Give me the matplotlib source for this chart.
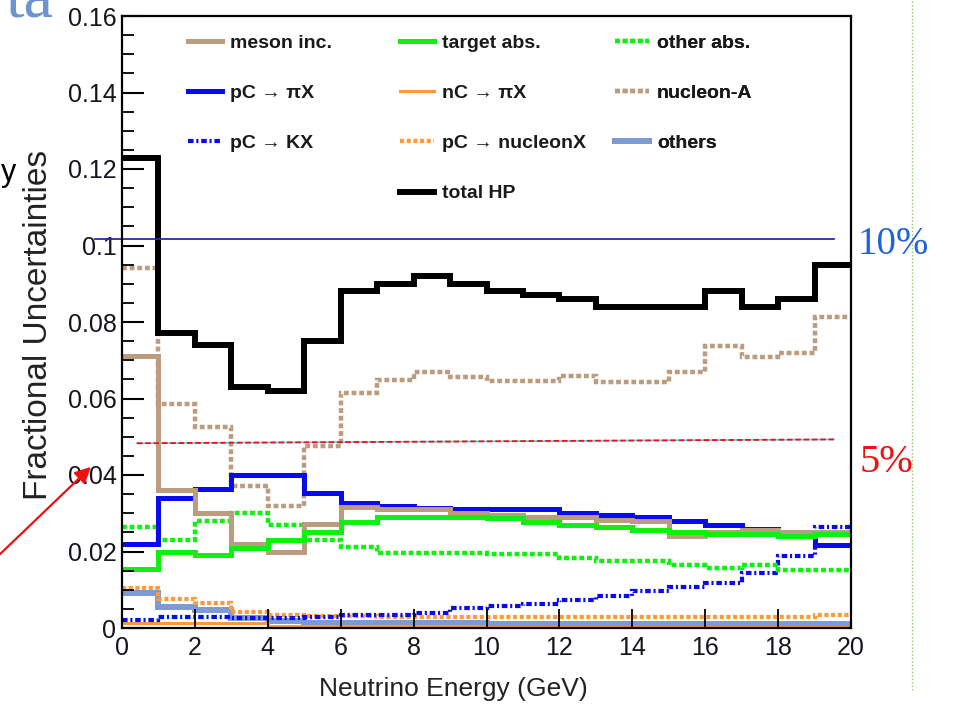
import numpy as np
import matplotlib
matplotlib.use("Agg")
import matplotlib.pyplot as plt
from matplotlib.lines import Line2D
from matplotlib.ticker import MultipleLocator, FuncFormatter

plt.rcParams['font.family'] = ['Liberation Sans', 'DejaVu Sans']
plt.rcParams['lines.scale_dashes'] = False

# 1 GeV bins from 0 to 20 GeV
energy_edges = list(range(0, 21))

meson_inc = [0.071, 0.036, 0.030, 0.022, 0.020, 0.0273, 0.0317, 0.031, 0.031, 0.030,
             0.0296, 0.029, 0.029, 0.0283, 0.028, 0.024, 0.025, 0.0257, 0.025, 0.025]
target_abs = [0.0155, 0.020, 0.019, 0.021, 0.023, 0.025, 0.0278, 0.029, 0.029, 0.029,
              0.0288, 0.0276, 0.027, 0.0264, 0.0257, 0.025, 0.0247, 0.0247, 0.024, 0.0247]
other_abs = [0.0264, 0.023, 0.028, 0.030, 0.027, 0.023, 0.0213, 0.0197, 0.0197, 0.0197,
             0.0194, 0.0194, 0.0183, 0.0176, 0.0176, 0.0165, 0.0157, 0.0165, 0.0152, 0.0152]
pc_pix = [0.022, 0.034, 0.0364, 0.040, 0.040, 0.0354, 0.0327, 0.032, 0.0315, 0.031,
          0.031, 0.031, 0.030, 0.0296, 0.029, 0.028, 0.027, 0.026, 0.025, 0.0218]
nc_pix = [0.0012, 0.0012, 0.0012, 0.0012, 0.0006, 0.0006, 0.0006, 0.0006, 0.0006, 0.0006,
          0.0003, 0.0003, 0.0003, 0.0003, 0.0003, 0.0003, 0.0003, 0.0003, 0.0003, 0.0003]
nucleon_a = [0.094, 0.0585, 0.0525, 0.037, 0.032, 0.0477, 0.0614, 0.0648, 0.067, 0.0655,
             0.0645, 0.0645, 0.066, 0.0643, 0.0643, 0.067, 0.0737, 0.0708, 0.072, 0.0813]
pc_kx = [0.002, 0.003, 0.003, 0.0025, 0.0025, 0.003, 0.0033, 0.0035, 0.004, 0.0052,
         0.0058, 0.0062, 0.0073, 0.0084, 0.0097, 0.0108, 0.0118, 0.0144, 0.0189, 0.0265]
pc_nucleonx = [0.0105, 0.0077, 0.0066, 0.0042, 0.0034, 0.0032, 0.0032, 0.003, 0.003, 0.003,
               0.0029, 0.0029, 0.0029, 0.0029, 0.0028, 0.0028, 0.0028, 0.0029, 0.003, 0.0034]
others = [0.0091, 0.0056, 0.0047, 0.0026, 0.0018, 0.0012, 0.0012, 0.0012, 0.0012, 0.0012,
          0.0010, 0.0010, 0.0010, 0.0010, 0.0010, 0.0010, 0.0010, 0.0010, 0.0010, 0.0010]
total_hp = [0.123, 0.077, 0.074, 0.063, 0.062, 0.075, 0.088, 0.090, 0.092, 0.090,
            0.088, 0.087, 0.086, 0.084, 0.084, 0.084, 0.088, 0.084, 0.086, 0.095]

# slide overlay levels (as drawn)
line_10pct = 0.1018
line_5pct = (0.0483, 0.0493)

tan = '#bb9c7e'
green = '#11ee11'
blue = '#0a0aee'
orange = '#ff9a3c'
lightblue = '#7c9bd4'

if __name__ == "__main__":
    fig = plt.figure(figsize=(9.6, 7.12), dpi=100)
    ax = fig.add_axes([122 / 960, 84 / 712, 729 / 960, 612 / 712])

    # draw order roughly as in the original (total on top)
    series = [
        ("others", others, dict(color=lightblue, lw=4.3)),
        ("nC \u2192 \u03c0X", nc_pix, dict(color=orange, lw=2.2)),
        ("pC \u2192 nucleonX", pc_nucleonx, dict(color=orange, lw=3.0, linestyle=(0, (3, 1.8)))),
        ("pC \u2192 KX", pc_kx, dict(color=blue, lw=3.0, linestyle=(0, (4, 2, 1.5, 2)))),
        ("other abs.", other_abs, dict(color=green, lw=3.2, linestyle=(0, (3.5, 2)))),
        ("nucleon-A", nucleon_a, dict(color=tan, lw=3.2, linestyle=(0, (3.5, 2)))),
        ("pC \u2192 \u03c0X", pc_pix, dict(color=blue, lw=3.6)),
        ("meson inc.", meson_inc, dict(color=tan, lw=3.6)),
        ("target abs.", target_abs, dict(color=green, lw=3.6)),
        ("total HP", total_hp, dict(color='black', lw=4.3)),
    ]
    handles = {}
    for name, vals, style in series:
        ax.stairs(vals, energy_edges, baseline=None, **style)
        handles[name] = Line2D([], [], **style)

    ax.set_xlim(0, 20)
    ax.set_ylim(0, 0.16)

    ax.xaxis.set_major_locator(MultipleLocator(2))
    ax.yaxis.set_major_locator(MultipleLocator(0.02))
    ax.yaxis.set_minor_locator(MultipleLocator(0.005))
    ax.yaxis.set_major_formatter(FuncFormatter(lambda v, p: "%g" % round(v, 3)))
    ax.tick_params(axis='y', which='major', direction='in', length=15.8, width=1.5,
                   labelsize=18, pad=4, labelcolor='#15151f')
    ax.tick_params(axis='y', which='minor', direction='in', length=8.5, width=1.3)
    ax.tick_params(axis='x', which='major', direction='in', length=14, width=1.3,
                   labelsize=18, pad=6, labelcolor='#15151f')
    for sp in ax.spines.values():
        sp.set_linewidth(1.6)

    ax.set_ylabel("Fractional Uncertainties", fontsize=24, color='#222222')
    ax.yaxis.set_label_coords(-0.093, 0.495)
    ax.set_xlabel("Neutrino Energy (GeV)", fontsize=19, color='#222222')
    ax.xaxis.set_label_coords(0.454, -0.08)

    # three legend columns, each placed at its own position
    legend_cols = [
        (["meson inc.", "pC \u2192 \u03c0X", "pC \u2192 KX"], 188),
        (["target abs.", "nC \u2192 \u03c0X", "pC \u2192 nucleonX", "total HP"], 400),
        (["other abs.", "nucleon-A", "others"], 615),
    ]
    for names, xpix in legend_cols:
        leg = ax.legend([handles[n] for n in names], names, loc='upper left',
                        bbox_to_anchor=((xpix - 122) / 729, (628 - 34) / 612),
                        frameon=False, borderpad=0, borderaxespad=0,
                        handlelength=1.75, handletextpad=0.4, labelspacing=1.68,
                        prop=dict(size=14, weight='bold'))
        for t in leg.get_texts():
            t.set_color('#1a1a1a')
        ax.add_artist(leg)

    # slide overlays: 10% and 5% guide lines
    ax.plot([-0.74, 19.53], [line_10pct, line_10pct], color='#2b2ba6', lw=1.3, clip_on=False)
    ax.plot([0.41, 19.53], list(line_5pct), color='#66ccee', lw=1.2, clip_on=False)
    ax.plot([0.41, 19.53], list(line_5pct), color='#ee1111', lw=1.3,
            linestyle=(0, (4, 2)), clip_on=False)

    fig.text(858 / 960, 1 - 244 / 712, "10%", ha='left', va='center',
             family='Liberation Serif', size=28, color='#1f63d6')
    fig.text(860 / 960, 1 - 463 / 712, "5%", ha='left', va='center',
             family='Liberation Serif', size=29, color='#ee1111')

    ax.annotate('', xy=(93, 712 - 465), xycoords='figure pixels',
                xytext=(-4, 712 - 558), textcoords='figure pixels',
                arrowprops=dict(arrowstyle='-|>', color='#ee1111', lw=1.6,
                                mutation_scale=24))

    # bits of the surrounding slide
    fig.add_artist(Line2D([912 / 960, 912 / 960], [1 - 690 / 712, 1],
                          transform=fig.transFigure, color='#93c764', lw=1.0,
                          linestyle=(0, (1, 1.5))))
    fig.text(5 / 960, 1 - 17 / 712, "ta", ha='left', va='baseline',
             family='Liberation Serif', size=48, color='#6c95d0')
    fig.text(1 / 960, 1 - 181 / 712, "y", ha='left', va='baseline',
             size=22, color='black')

    fig.savefig("out.png", dpi=100)
